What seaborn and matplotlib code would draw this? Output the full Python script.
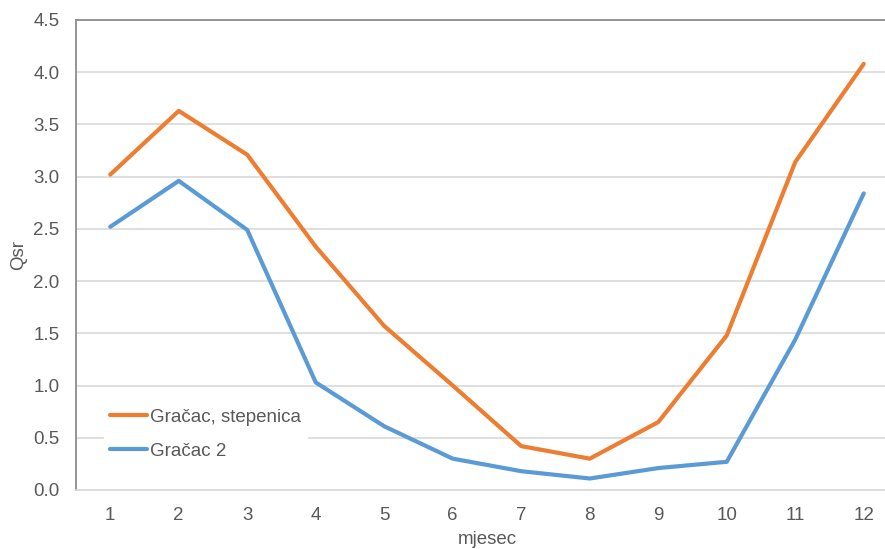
import matplotlib
matplotlib.use("Agg")
import matplotlib.pyplot as plt
import seaborn as sns
import pandas as pd

months = list(range(1, 13))
gracac_stepenica = [3.02, 3.63, 3.21, 2.33, 1.57, 1.00, 0.42, 0.30, 0.65, 1.48, 3.14, 4.08]
gracac_2 = [2.52, 2.96, 2.49, 1.03, 0.61, 0.30, 0.18, 0.11, 0.21, 0.27, 1.44, 2.84]
series_names = ["Gračac, stepenica", "Gračac 2"]
y_ticks = [0.0, 0.5, 1.0, 1.5, 2.0, 2.5, 3.0, 3.5, 4.0, 4.5]

df = pd.DataFrame({
    "mjesec": months * 2,
    "Qsr": gracac_stepenica + gracac_2,
    "serija": [series_names[0]] * 12 + [series_names[1]] * 12,
})

sns.set_style("white")
plt.rcParams["font.family"] = ["Liberation Sans", "DejaVu Sans"]

fig = plt.figure(figsize=(8.85, 5.49), dpi=100)
ax = fig.add_axes([76 / 885, 59 / 549, 822 / 885, 470 / 549])

sns.lineplot(data=df, x="mjesec", y="Qsr", hue="serija",
             palette=["#ed7d31", "#5b9bd5"], linewidth=3.0, ax=ax,
             solid_capstyle="round")

ax.set_xlim(0.5, 12.5)
ax.set_ylim(0, 4.5)
ax.set_xticks(months)
ax.set_yticks(y_ticks)
ax.set_yticklabels([f"{v:.1f}" for v in y_ticks])
ax.yaxis.grid(True, color="#d9d9d9", linewidth=1.2)
ax.set_axisbelow(True)

for s in ("left", "top"):
    ax.spines[s].set_color("#8c8c8c")
    ax.spines[s].set_linewidth(1.3)
ax.spines["bottom"].set_color("#d9d9d9")
ax.spines["bottom"].set_linewidth(1.2)
ax.spines["right"].set_visible(False)

ax.tick_params(axis="both", labelsize=13.5, colors="#595959", length=0)
ax.tick_params(axis="x", pad=12)
ax.tick_params(axis="y", pad=12)
ax.set_xlabel("mjesec", fontsize=13.5, color="#595959", labelpad=5)
ax.set_ylabel("Qsr", fontsize=13.5, color="#595959", labelpad=4)

leg = ax.legend(loc="lower left", bbox_to_anchor=(0.034, 0.052), frameon=True,
                fontsize=13.5, handlelength=2.0, handletextpad=0.15,
                labelspacing=0.9, borderpad=0.3, borderaxespad=0.0,
                fancybox=False)
leg.get_frame().set_edgecolor("white")
leg.get_frame().set_facecolor("white")
leg.get_frame().set_alpha(1.0)
for t in leg.get_texts():
    t.set_color("#595959")
for h in leg.get_lines():
    h.set_linewidth(3.0)

fig.savefig("out.png", dpi=100)
